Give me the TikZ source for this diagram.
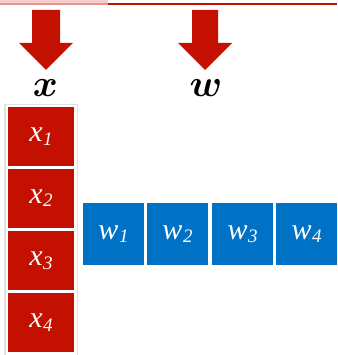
\RequirePackage{fix-cm}
\documentclass[tikz,border=0pt]{standalone}
\usepackage{fontspec}
\setmainfont{Liberation Serif}
\usepackage{amsmath}
\usepackage{bm}
\usetikzlibrary{shadows}
\definecolor{cellred}{RGB}{196,16,0}
\definecolor{cellblue}{RGB}{0,114,198}
\definecolor{pinkbar}{RGB}{246,205,205}
\newcommand{\cellsym}[2]{\textit{#1}\kern0.5pt\raisebox{-3.5pt}{\fontsize{19}{19}\selectfont\textit{#2}}}
\tikzset{
  cellbox/.style={draw=white, line width=0.8pt, minimum width=#1, minimum height=60pt, inner sep=0pt,
     text=white, font=\fontsize{30}{30}\selectfont},
  xcell/.style={cellbox=67pt, fill=cellred},
  wcell/.style={cellbox=62pt, fill=cellblue, minimum height=63pt},
  bigarrow/.style={fill=cellred, draw=none},
  toplabel/.style={font=\fontsize{38}{38}\selectfont, inner sep=0pt}
}
\begin{document}
\begin{tikzpicture}[x=1pt,y=-1pt]
\useasboundingbox (0,0) rectangle (337,355);
% top bar
\fill[pinkbar] (0,0) rectangle (108,3);
\fill[pinkbar!70!cellred] (0,3) rectangle (108,4.8);
\fill[cellred] (108,2.8) rectangle (337,4.8);
% arrows
\fill[bigarrow] (32,10) -- (60,10) -- (60,43) -- (73,43) -- (46,70) -- (19,43) -- (32,43) -- cycle;
\fill[bigarrow] (192,10) -- (218,10) -- (218,43) -- (232,43) -- (205,70) -- (178,43) -- (192,43) -- cycle;
% labels
\node[toplabel] (xl) at (45.5,88) {$\bm{x}$};
\node[toplabel] (wl) at (206,88) {$\bm{w}$};
% frame of x column
\fill[black!12] (4,104) rectangle (78,360);
\fill[white] (5.5,105) rectangle (76.5,360);
% x cells
\node[xcell] (x1) at (41,136.5) {\cellsym{x}{1}};
\node[xcell] (x2) at (41,198) {\cellsym{x}{2}};
\node[xcell] (x3) at (41,260.5) {\cellsym{x}{3}};
\node[xcell] (x4) at (41,322.5) {\cellsym{x}{4}};
% w cells
\node[wcell] (w1) at (113.5,234) {\cellsym{w}{1}};
\node[wcell] (w2) at (177.5,234) {\cellsym{w}{2}};
\node[wcell] (w3) at (242.5,234) {\cellsym{w}{3}};
\node[wcell] (w4) at (306.5,234) {\cellsym{w}{4}};
\end{tikzpicture}
\end{document}
